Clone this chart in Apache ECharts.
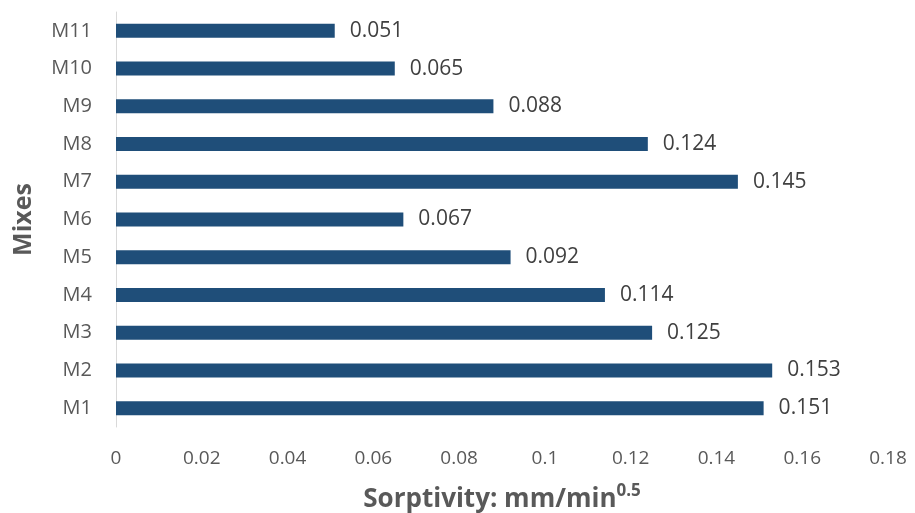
<!DOCTYPE html>
<html><head><meta charset="utf-8">
<script src="https://cdn.jsdelivr.net/npm/echarts@6/dist/echarts.min.js"></script>
<style>html,body{margin:0;padding:0;background:#fff}#c{width:915px;height:513px}</style>
</head><body><div id="c"></div>
<script>
const categories = ['M1','M2','M3','M4','M5','M6','M7','M8','M9','M10','M11'];
const values = [0.151,0.153,0.125,0.114,0.092,0.067,0.145,0.124,0.088,0.065,0.051];
const xTicks = [0,0.02,0.04,0.06,0.08,0.1,0.12,0.14,0.16,0.18];
const font = 'Open Sans';
const chart = echarts.init(document.getElementById('c'));
chart.setOption({
  animation:false,
  grid:{left:116,right:27,top:12,bottom:86,containLabel:false,outerBoundsMode:'none'},
  xAxis:{type:'value',min:0,max:0.18,interval:0.02,
    axisLine:{show:false},axisTick:{show:false},splitLine:{show:false},
    axisLabel:{color:'#595959',fontFamily:font,fontSize:19,margin:22,
      formatter:v=>String(+v.toFixed(2))},
    name:'{a|Sorptivity: mm/min}{s|0.5}',nameLocation:'middle',nameGap:56,
    nameTextStyle:{rich:{
      a:{fontFamily:font,fontSize:26,fontWeight:'bold',color:'#595959',verticalAlign:'bottom',lineHeight:30},
      s:{fontFamily:font,fontSize:17,fontWeight:'bold',color:'#595959',verticalAlign:'top',padding:[0,0,14,0],lineHeight:30}}}
  },
  yAxis:{type:'category',data:categories,
    axisLine:{show:true,lineStyle:{color:'#d9d9d9',width:1}},axisTick:{show:false},
    axisLabel:{color:'#595959',fontFamily:font,fontSize:20,margin:24},
    name:'Mixes',nameLocation:'middle',nameGap:80,nameRotate:90,
    nameTextStyle:{fontFamily:font,fontSize:25,fontWeight:'bold',color:'#595959'}
  },
  series:[{type:'bar',data:values,barWidth:14,
    itemStyle:{color:'#1f4e79'},
    label:{show:true,position:'right',distance:15,color:'#404040',fontFamily:font,fontSize:21,
      formatter:p=>p.value.toFixed(3)}
  }]
});
</script></body></html>
